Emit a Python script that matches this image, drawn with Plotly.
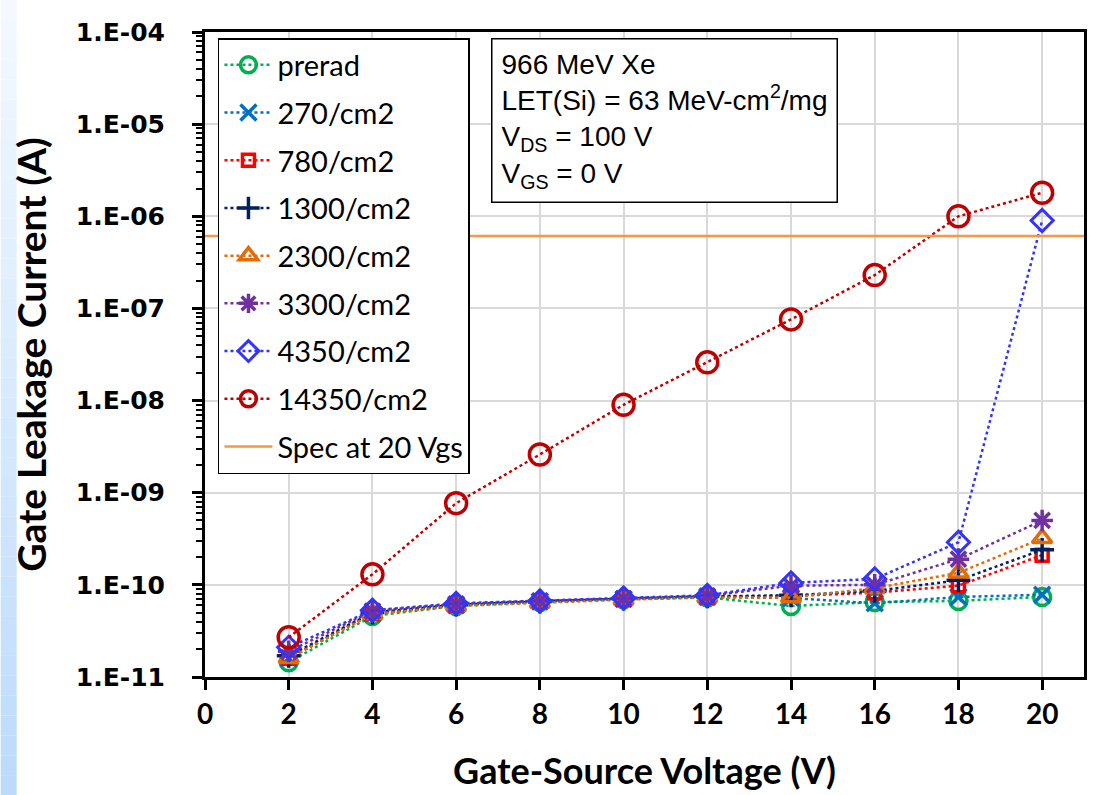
import plotly.graph_objects as go

# ---------------- data ----------------
vgs = [2, 4, 6, 8, 10, 12, 14, 16, 18, 20]

series_names = ["prerad", "270/cm2", "780/cm2", "1300/cm2", "2300/cm2",
                "3300/cm2", "4350/cm2", "14350/cm2"]

prerad = [1.45e-11, 4.6e-11, 5.9e-11, 6.5e-11, 7.0e-11, 7.3e-11, 5.9e-11, 6.5e-11, 6.7e-11, 7.4e-11]
f270 = [1.6e-11, 4.9e-11, 6.0e-11, 6.6e-11, 7.0e-11, 7.4e-11, 7.2e-11, 6.3e-11, 7.4e-11, 7.8e-11]
f780 = [1.6e-11, 4.9e-11, 6.0e-11, 6.6e-11, 7.0e-11, 7.4e-11, 7.6e-11, 8.2e-11, 9.8e-11, 2.1e-10]
f1300 = [1.7e-11, 5.0e-11, 6.1e-11, 6.6e-11, 7.1e-11, 7.5e-11, 7.7e-11, 8.6e-11, 1.12e-10, 2.4e-10]
f2300 = [1.6e-11, 4.8e-11, 5.9e-11, 6.4e-11, 6.9e-11, 7.3e-11, 7.3e-11, 9.2e-11, 1.35e-10, 3.2e-10]
f3300 = [1.9e-11, 5.2e-11, 6.2e-11, 6.7e-11, 7.1e-11, 7.6e-11, 9.8e-11, 1.0e-10, 1.9e-10, 5.0e-10]
f4350 = [2.1e-11, 5.3e-11, 6.3e-11, 6.7e-11, 7.2e-11, 7.7e-11, 1.05e-10, 1.16e-10, 2.9e-10, 9.0e-7]
f14350 = [2.7e-11, 1.3e-10, 7.7e-10, 2.6e-9, 9.0e-9, 2.6e-8, 7.6e-8, 2.3e-7, 1.0e-6, 1.8e-6]

series_values = [prerad, f270, f780, f1300, f2300, f3300, f4350, f14350]

spec_name = "Spec at 20 Vgs"
spec_x = [0, 21]
spec_value = 6.1e-7

ytick_vals = [1e-11, 1e-10, 1e-9, 1e-8, 1e-7, 1e-6, 1e-5, 1e-4]
ytick_text = ["1.E-11", "1.E-10", "1.E-09", "1.E-08", "1.E-07", "1.E-06", "1.E-05", "1.E-04"]
xtick_vals = [0, 2, 4, 6, 8, 10, 12, 14, 16, 18, 20]

# ---------------- styles ----------------
colors = ["#00B050", "#0070C0", "#FF0000", "#002060", "#E36C09",
          "#7030A0", "#3333FF", "#C00000"]
symbols = ["circle-open", "x-thin-open", "square-open", "cross-thin-open",
           "triangle-up-open", "asterisk-open", "diamond-open", "circle-open"]
sizes = [17, 16, 12, 17, 17, 18, 17, 21]
mlw = [3.5, 3.5, 3.5, 3.5, 3.5, 3.5, 3, 3.5]

minor_vals = [m * d for d in ytick_vals[:-1] for m in range(2, 10)]

fig = go.Figure()
for i, (name, vals) in enumerate(zip(series_names, series_values)):
    fig.add_trace(go.Scatter(
        x=vgs, y=vals, name=name, mode="lines+markers",
        line=dict(color=colors[i], width=2.5, dash="dot"),
        marker=dict(symbol=symbols[i], size=sizes[i], color=colors[i],
                    line=dict(color=colors[i], width=mlw[i])),
        legendgroup=f"g{i}",
    ))

fig.add_trace(go.Scatter(
    x=spec_x, y=[spec_value, spec_value], name=spec_name, mode="lines",
    line=dict(color="#F79646", width=2.5), legendgroup="spec",
))

# ---- left gradient strip (decoration) ----
shapes = []
n = 40
x0p = -205 / 882
x1p = (16 - 205) / 882
ytop = 677 / 645
ybot = (677 - 795) / 645
c_top = (244, 249, 255)
c_bot = (187, 219, 251)
for k in range(n):
    t = (k + 0.5) / n
    c = tuple(int(round(c_top[j] + (c_bot[j] - c_top[j]) * t)) for j in range(3))
    ya = ytop + (ybot - ytop) * k / n
    yb = ytop + (ybot - ytop) * (k + 1) / n
    shapes.append(dict(type="rect", xref="paper", yref="paper",
                       x0=x0p, x1=x1p, y0=yb, y1=ya,
                       fillcolor=f"rgb{c}", line=dict(width=0), layer="below"))

fig.update_layout(
    width=1094, height=795,
    margin=dict(l=205, r=7, t=32, b=118),
    paper_bgcolor="white", plot_bgcolor="white",
    shapes=shapes,
    showlegend=True,
    legend=dict(
        x=(218 - 205) / 882, y=(677 - 38) / 645, xanchor="left", yanchor="top",
        bgcolor="white", bordercolor="black", borderwidth=1.5,
        font=dict(family="Lato", size=29, color="black"),
        tracegroupgap=7, itemwidth=48,
    ),
    xaxis=dict(
        range=[0, 21], tickvals=xtick_vals,
        showgrid=True, gridcolor="#D9D9D9", gridwidth=1.5,
        showline=True, linecolor="black", linewidth=3, mirror=True,
        ticks="outside", ticklen=10, tickwidth=3, tickcolor="black",
        tickfont=dict(family="Lato", size=28, color="black", weight="bold"),
        title=dict(text="Gate-Source Voltage (V)", standoff=31,
                   font=dict(family="Lato", size=36, color="black", weight="bold")),
        zeroline=False,
    ),
    yaxis=dict(
        type="log", range=[-11, -4], tickvals=ytick_vals, ticktext=ytick_text,
        showgrid=True, gridcolor="#D9D9D9", gridwidth=1.5,
        showline=True, linecolor="black", linewidth=3, mirror=True,
        ticks="outside", ticklen=10, tickwidth=2.5, tickcolor="black",
        minor=dict(tickmode="array", tickvals=minor_vals, ticks="outside",
                   ticklen=6, tickwidth=2, tickcolor="black", showgrid=False),
        tickfont=dict(family="DejaVu Sans", size=25, color="black", weight="bold"),
        ticklabelstandoff=22,
        title=dict(text="Gate Leakage Current (A)", standoff=18,
                   font=dict(family="Lato", size=39, color="black", weight="bold")),
        zeroline=False,
    ),
    annotations=[dict(
        text="966 MeV Xe<br>LET(Si) = 63 MeV-cm<sup>2</sup>/mg<br>V<sub>DS</sub> = 100 V<br>V<sub>GS</sub> = 0 V",
        xref="paper", yref="paper",
        x=(492 - 205) / 882, y=(677 - 38) / 645, xanchor="left", yanchor="top",
        align="left", showarrow=False,
        font=dict(family="Liberation Sans", size=28, color="black"),
        bgcolor="white", bordercolor="black", borderwidth=1.5, borderpad=9,
    )],
)

fig.write_html("out.html")
